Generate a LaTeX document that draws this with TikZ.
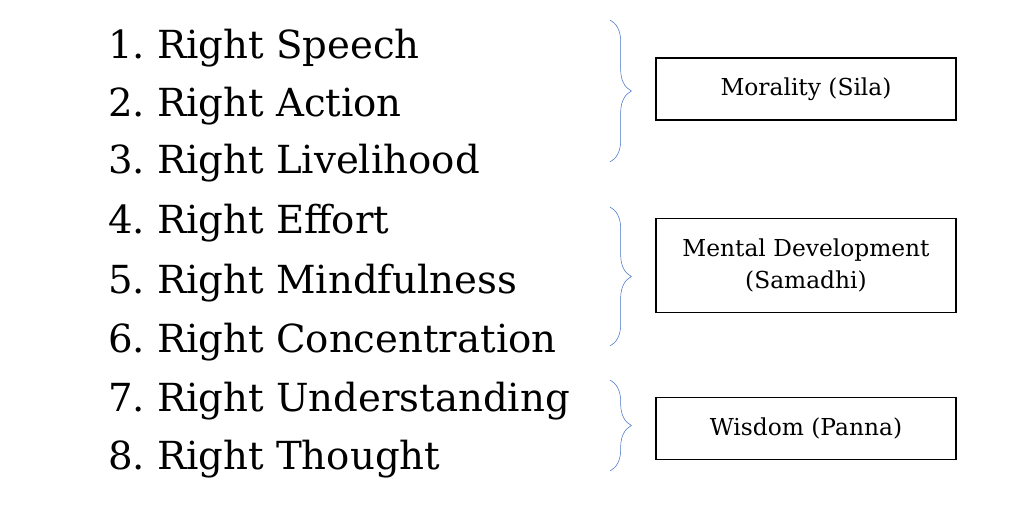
\documentclass[tikz,border=0pt]{standalone}
\usepackage{fontspec}
\setmainfont{DejaVu Serif}
\usetikzlibrary{decorations.pathreplacing}
\definecolor{brc}{RGB}{68,114,196}
\begin{document}
\begin{tikzpicture}[x=0.75pt,y=-0.75pt,
  item/.style={anchor=base west,font=\fontsize{29}{30}\selectfont,inner sep=0},
  box/.style={draw,thick,minimum width=225pt,align=center,font=\fontsize{17.5}{24}\selectfont},
  br/.style={draw=brc,thin,decorate,decoration={brace,amplitude=16pt}}]
\useasboundingbox (0,0) rectangle (1024,507);
\foreach \n/\t/\y in {1/Speech/45,2/Action/103,3/Livelihood/160,4/Effort/220,5/Mindfulness/280,6/Concentration/339,7/Understanding/398,8/Thought/456}{
  \node[item] (n\n) at (108,\y+13) {\n.};
  \node[item] (t\n) at (157,\y+13) {Right \t};
}
\node[box,minimum height=46.5pt] (b1) at (806,89) {Morality (Sila)};
\node[box,minimum height=71pt] (b2) at (806,265.5) {Mental Development\\(Samadhi)};
\node[box,minimum height=47pt] (b3) at (806,428.5) {Wisdom (Panna)};
\coordinate (a1) at (610,20); \coordinate (a2) at (610,162);
\coordinate (c1) at (610,207); \coordinate (c2) at (610,346);
\coordinate (d1) at (610,380); \coordinate (d2) at (610,471);
\draw[br] (a1) -- (a2);
\draw[br] (c1) -- (c2);
\draw[br] (d1) -- (d2);
\end{tikzpicture}
\end{document}
